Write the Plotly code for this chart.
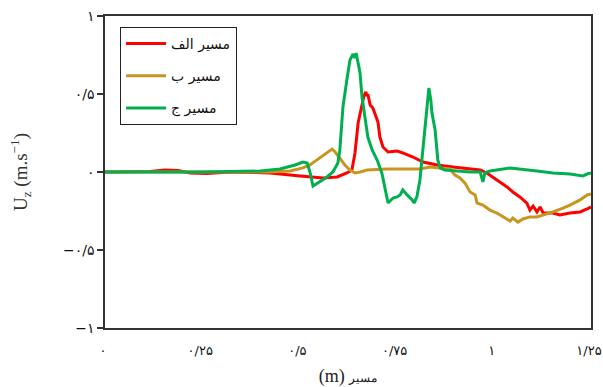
import plotly.graph_objects as go

# Distance along each path (m) and vertical velocity Uz (m/s)
path_a_x = [0.0, 0.116, 0.154, 0.188, 0.219, 0.262, 0.322, 0.424, 0.502, 0.535, 0.561, 0.597,
            0.622, 0.635, 0.643, 0.651, 0.661, 0.666, 0.671, 0.674, 0.676, 0.682, 0.689, 0.697,
            0.702, 0.707, 0.715, 0.728, 0.751, 0.766, 0.792, 0.818, 0.854, 0.895, 0.939, 0.965,
            0.982, 0.998, 1.016, 1.034, 1.049, 1.067, 1.085, 1.093, 1.101, 1.111, 1.119, 1.127,
            1.152, 1.170, 1.196, 1.222, 1.240, 1.250]
path_a_uz = [0.0, 0.003, 0.013, 0.010, -0.006, -0.010, 0.0, -0.006, -0.026, -0.032, -0.038, -0.032,
             -0.006, 0.013, 0.122, 0.314, 0.442, 0.487, 0.513, 0.487, 0.500, 0.429, 0.410, 0.353,
             0.321, 0.224, 0.160, 0.128, 0.135, 0.122, 0.096, 0.064, 0.045, 0.032, 0.019, 0.013,
             -0.006, -0.032, -0.064, -0.096, -0.128, -0.160, -0.199, -0.244, -0.218, -0.256, -0.224, -0.263,
             -0.263, -0.276, -0.263, -0.256, -0.237, -0.224]

path_b_x = [0.0, 0.424, 0.476, 0.509, 0.527, 0.553, 0.571, 0.584, 0.592, 0.604, 0.617, 0.630,
            0.643, 0.656, 0.674, 0.725, 0.766, 0.810, 0.836, 0.869, 0.887, 0.900, 0.913, 0.926,
            0.939, 0.952, 0.957, 0.972, 0.990, 1.008, 1.024, 1.042, 1.049, 1.062, 1.075, 1.093,
            1.111, 1.127, 1.152, 1.178, 1.196, 1.222, 1.240, 1.250]
path_b_uz = [0.0, 0.0, 0.006, 0.026, 0.045, 0.090, 0.122, 0.147, 0.128, 0.090, 0.045, 0.013,
             -0.006, 0.0, 0.013, 0.019, 0.019, 0.019, 0.032, 0.026, 0.019, -0.019, -0.038, -0.071,
             -0.128, -0.147, -0.199, -0.212, -0.244, -0.263, -0.288, -0.314, -0.295, -0.321, -0.301, -0.288,
             -0.288, -0.276, -0.256, -0.231, -0.212, -0.179, -0.147, -0.141]

path_c_x = [0.0, 0.244, 0.399, 0.450, 0.489, 0.509, 0.520, 0.527, 0.535, 0.543, 0.553, 0.571,
            0.586, 0.599, 0.604, 0.612, 0.622, 0.630, 0.638, 0.643, 0.646, 0.651, 0.656, 0.661,
            0.669, 0.676, 0.687, 0.700, 0.712, 0.720, 0.728, 0.741, 0.751, 0.759, 0.766, 0.777,
            0.790, 0.795, 0.802, 0.810, 0.818, 0.826, 0.831, 0.833, 0.838, 0.841, 0.849, 0.854,
            0.856, 0.862, 0.874, 0.939, 0.965, 0.972, 0.977, 0.990, 1.024, 1.042, 1.111, 1.152,
            1.196, 1.229, 1.240, 1.250]
path_c_uz = [0.0, 0.0, 0.006, 0.019, 0.045, 0.064, 0.058, 0.0, -0.090, -0.077, -0.058, -0.032,
             0.0, 0.058, 0.141, 0.417, 0.590, 0.718, 0.756, 0.731, 0.763, 0.699, 0.635, 0.481,
             0.333, 0.224, 0.141, 0.077, -0.006, -0.115, -0.199, -0.167, -0.160, -0.147, -0.115, -0.147,
             -0.179, -0.199, -0.160, -0.051, 0.160, 0.333, 0.462, 0.538, 0.462, 0.378, 0.269, 0.160,
             0.077, 0.026, 0.013, 0.0, 0.0, -0.064, -0.006, 0.006, 0.019, 0.026, 0.006, -0.006,
             -0.013, -0.026, -0.013, -0.006]

series_names = ["مسیر الف", "مسیر ب", "مسیر ج"]
series_colors = ["#ff0000", "#c8961e", "#00b050"]

x_tick_vals = [0, 0.25, 0.5, 0.75, 1, 1.25]
x_tick_text = ["۰", "۰/۲۵", "۰/۵", "۰/۷۵", "۱", "۱/۲۵"]
y_tick_vals = [-1, -0.5, 0, 0.5, 1]
y_tick_text = ["−۱", "−۰/۵", "۰", "۰/۵", "۱"]

fig = go.Figure()
for i, (xs, ys) in enumerate([(path_a_x, path_a_uz), (path_b_x, path_b_uz), (path_c_x, path_c_uz)]):
    fig.add_trace(go.Scatter(
        x=xs, y=ys, mode="lines", name=series_names[i], legendgroup=f"g{i}",
        line=dict(color=series_colors[i], width=3),
    ))

axis_color = "#333333"
fig.update_layout(
    width=603, height=387,
    margin=dict(l=105, r=12, t=16, b=59, autoexpand=False),
    paper_bgcolor="white", plot_bgcolor="white",
    showlegend=True,
    legend=dict(
        x=0.031, y=0.965, xanchor="left", yanchor="top",
        bordercolor="#222222", borderwidth=1, bgcolor="white",
        font=dict(family="DejaVu Sans", size=14, color="#111111"),
        tracegroupgap=11, itemwidth=40,
    ),
    xaxis=dict(
        range=[0, 1.25], tickvals=x_tick_vals, ticktext=x_tick_text,
        showgrid=False, zeroline=False, ticks="", automargin=False,
        ticklabeloverflow="allow", ticklabelshift=-2,
        showline=True, linecolor=axis_color, linewidth=1.5, mirror=True,
        tickfont=dict(family="DejaVu Sans", size=13, color="#111111"),
        ticklabelstandoff=10,
        title=dict(
            text="(m) <span style='font-size:12px'>مسیر</span>",
            font=dict(family="Liberation Serif", size=18, color="#222222"),
            standoff=14,
        ),
    ),
    yaxis=dict(
        range=[-1, 1], tickvals=y_tick_vals, ticktext=y_tick_text,
        showgrid=False, zeroline=False, ticks="outside", ticklen=6, automargin=False,
        ticklabeloverflow="allow",
        tickcolor=axis_color, tickwidth=1.5,
        showline=True, linecolor=axis_color, linewidth=1.5, mirror=True,
        tickfont=dict(family="DejaVu Sans", size=14, color="#111111"),
        title=dict(
            text="U<sub>z</sub> (m.s<sup>−1</sup>)",
            font=dict(family="Liberation Serif", size=19, color="#333333"),
            standoff=30,
        ),
    ),
    yaxis2=dict(
        range=[-1, 1], tickvals=y_tick_vals, overlaying="y", anchor="x", side="left",
        showgrid=False, zeroline=False, showline=False, showticklabels=False,
        ticks="inside", ticklen=7, tickcolor=axis_color, tickwidth=1.5, automargin=False,
    ),
)

fig.write_html("out.html")
